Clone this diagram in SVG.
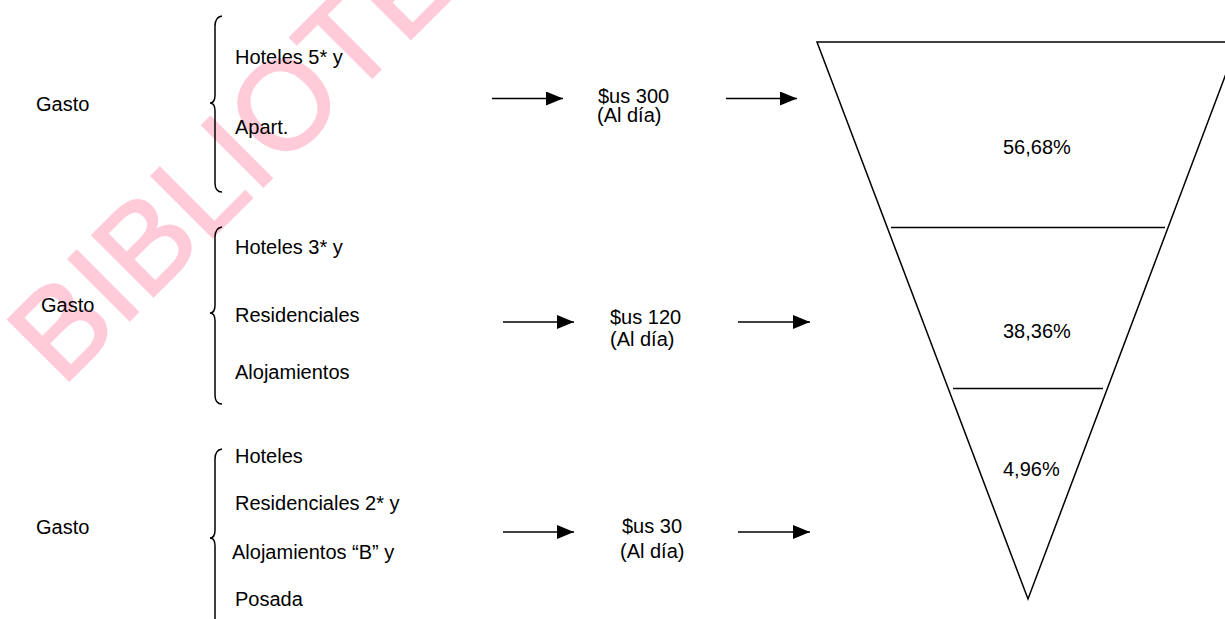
<svg xmlns="http://www.w3.org/2000/svg" width="1225" height="619" viewBox="0 0 1225 619">
<defs>
<style>
text{font-family:"Liberation Sans",Arial,sans-serif;font-size:20px;fill:#000}
.wm{font-size:126px;fill:#ffcbd8;stroke:#ffcbd8;stroke-width:2}
.brace{fill:none;stroke:#000;stroke-width:1.5}
.ln{fill:none;stroke:#000;stroke-width:1.5}
</style>
<marker id="ah" markerWidth="17" markerHeight="14" refX="17" refY="7" orient="auto" markerUnits="userSpaceOnUse">
<path d="M0,0 L17,7 L0,14 Z" fill="#000"/>
</marker>
</defs>
<rect width="1225" height="619" fill="#fff"/>
<text class="wm" transform="translate(62,388) rotate(-45)">BIBLIOTECA</text>

<g id="grupo1">
<text x="36" y="111">Gasto</text>
<path class="brace" d="M222,16 Q215,17 215,26 L215,95 Q215,103 210,103 Q215,103 215,111 L215,183 Q215,192 222,192"/>
<text x="235" y="64">Hoteles 5* y</text>
<text x="235" y="134">Apart.</text>
</g>
<g id="grupo2">
<text x="41" y="312">Gasto</text>
<path class="brace" d="M222,227 Q215,228 215,237 L215,305 Q215,313 210,313 Q215,313 215,321 L215,395 Q215,404 222,404"/>
<text x="235" y="254">Hoteles 3* y</text>
<text x="235" y="322">Residenciales</text>
<text x="235" y="379">Alojamientos</text>
</g>
<g id="grupo3">
<text x="36" y="534">Gasto</text>
<path class="brace" d="M222,449 Q215,450 215,459 L215,530 Q215,538 210,538 Q215,538 215,546 L215,618 Q215,627 222,627"/>
<text x="235" y="463">Hoteles</text>
<text x="235" y="510">Residenciales 2* y</text>
<text x="232" y="559">Alojamientos “B” y</text>
<text x="235" y="606">Posada</text>
</g>
<g id="gasto300">
<text x="598" y="103">$us 300</text>
<text x="597" y="122">(Al día)</text>
</g>
<g id="gasto120">
<text x="610" y="324">$us 120</text>
<text x="610" y="346">(Al día)</text>
</g>
<g id="gasto30">
<text x="622" y="533">$us 30</text>
<text x="620" y="558">(Al día)</text>
</g>
<g id="embudo">
<polygon class="ln" points="817,42 1238,42 1028,599"/>
<line class="ln" x1="891" y1="227.5" x2="1165" y2="227.5"/>
<line class="ln" x1="953" y1="388.5" x2="1103" y2="388.5"/>
<text x="1003" y="154">56,68%</text>
<text x="1003" y="338">38,36%</text>
<text x="1003" y="476">4,96%</text>
</g>
<g id="conectores">
<line class="ln" x1="492" y1="98.5" x2="563" y2="98.5" marker-end="url(#ah)"/>
<line class="ln" x1="726" y1="98.5" x2="797" y2="98.5" marker-end="url(#ah)"/>
<line class="ln" x1="503" y1="322" x2="574" y2="322" marker-end="url(#ah)"/>
<line class="ln" x1="738" y1="322" x2="810" y2="322" marker-end="url(#ah)"/>
<line class="ln" x1="503" y1="532" x2="574" y2="532" marker-end="url(#ah)"/>
<line class="ln" x1="738" y1="532" x2="810" y2="532" marker-end="url(#ah)"/>
</g>
</svg>
